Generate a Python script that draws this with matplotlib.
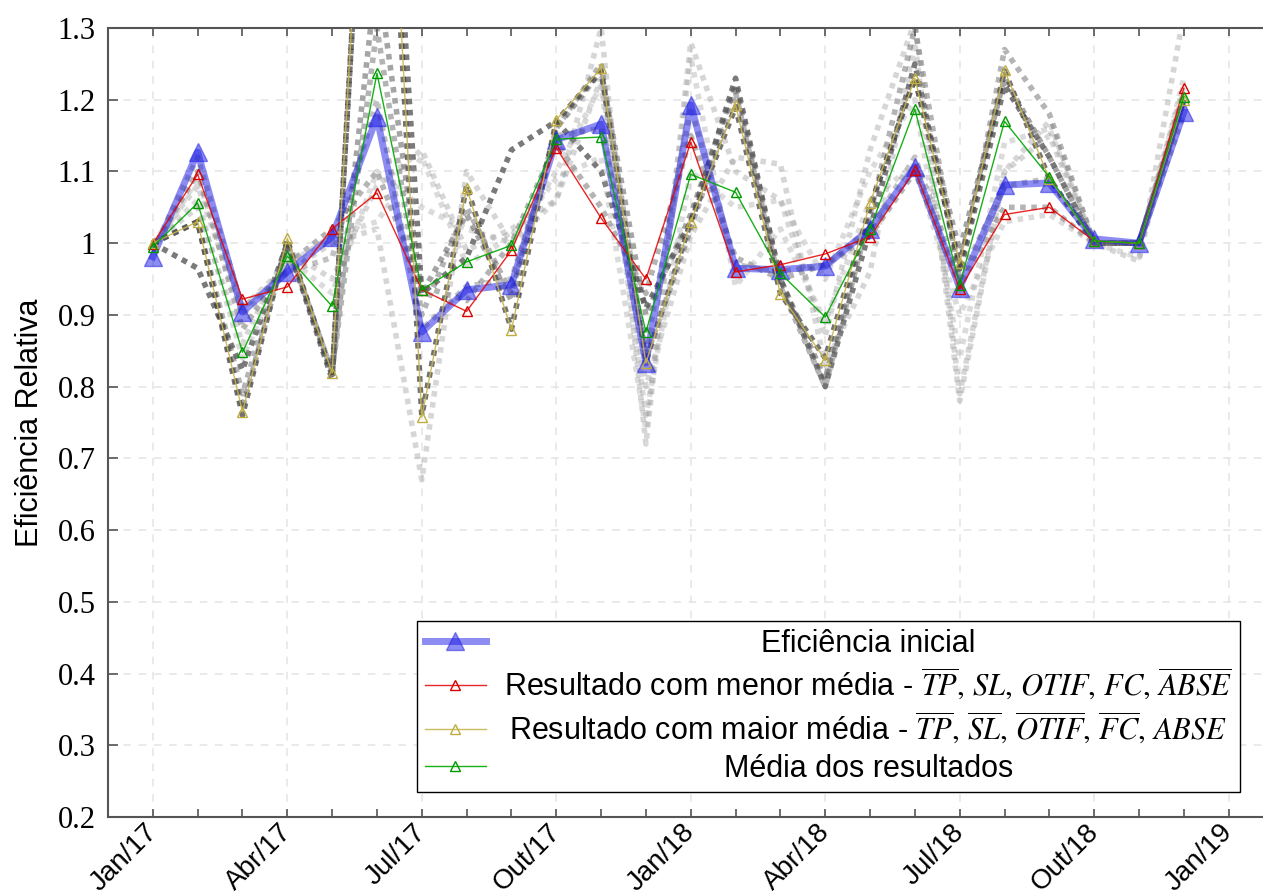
import matplotlib.pyplot as plt
import matplotlib.transforms as mtransforms
import numpy as np

plt.rcParams['font.family'] = ['Liberation Sans', 'DejaVu Sans']
plt.rcParams['mathtext.fontset'] = 'stix'

# meses avaliados (Jan/17 a Dez/18)
meses = ['Jan/17', 'Fev/17', 'Mar/17', 'Abr/17', 'Mai/17', 'Jun/17',
         'Jul/17', 'Ago/17', 'Set/17', 'Out/17', 'Nov/17', 'Dez/17',
         'Jan/18', 'Fev/18', 'Mar/18', 'Abr/18', 'Mai/18', 'Jun/18',
         'Jul/18', 'Ago/18', 'Set/18', 'Out/18', 'Nov/18', 'Dez/18']
rotulos_x = ['Jan/17', 'Abr/17', 'Jul/17', 'Out/17', 'Jan/18',
             'Abr/18', 'Jul/18', 'Out/18', 'Jan/19']

ef_inicial = [0.981, 1.127, 0.904, 0.960, 1.009, 1.176, 0.876, 0.935,
              0.942, 1.144, 1.166, 0.833, 1.193, 0.965, 0.963, 0.968,
              1.020, 1.106, 0.938, 1.081, 1.084, 1.006, 1.000, 1.183]
menor_media = [0.999, 1.096, 0.922, 0.939, 1.020, 1.070, 0.935, 0.905,
               0.990, 1.133, 1.035, 0.950, 1.141, 0.960, 0.970, 0.985,
               1.009, 1.102, 0.936, 1.040, 1.050, 1.003, 1.000, 1.216]
maior_media = [1.000, 1.030, 0.765, 1.007, 0.819, 1.940, 0.758, 1.077,
               0.879, 1.172, 1.244, 0.833, 1.030, 1.193, 0.929, 0.837,
               1.056, 1.230, 0.972, 1.241, 1.090, 1.003, 1.000, 1.200]
media_result = [0.995, 1.056, 0.848, 0.982, 0.912, 1.237, 0.935, 0.974,
                0.997, 1.145, 1.148, 0.876, 1.096, 1.071, 0.958, 0.897,
                1.020, 1.187, 0.942, 1.170, 1.092, 1.003, 1.000, 1.204]

# demais resultados da otimizacao
res_01 = [1.00, 1.03, 0.76, 1.005, 0.815, 1.90, 0.76, 1.08, 0.88, 1.17, 1.24, 0.835,
          1.03, 1.19, 0.93, 0.84, 1.05, 1.23, 0.97, 1.24, 1.09, 1.00, 1.00, 1.20]
res_02 = [1.00, 0.965, 0.823, 1.00, 0.81, 1.90, 0.93, 0.98, 1.13, 1.17, 1.10, 0.91,
          1.03, 1.23, 0.95, 0.80, 1.02, 1.25, 0.96, 1.22, 1.12, 1.00, 1.00, 1.20]
res_03 = [0.99, 1.10, 0.88, 0.97, 1.02, 1.10, 0.94, 0.92, 1.00, 1.14, 1.05, 0.93,
          1.15, 0.98, 0.95, 0.97, 1.01, 1.10, 0.94, 1.05, 1.05, 1.00, 1.00, 1.21]
res_04 = [1.00, 1.05, 0.86, 0.99, 0.95, 1.08, 1.13, 0.99, 1.02, 1.06, 1.30, 0.72,
          1.28, 1.10, 1.06, 0.87, 1.13, 1.31, 0.79, 1.10, 1.17, 1.00, 0.975, 1.32]
res_05 = [1.00, 1.08, 0.90, 0.96, 1.00, 1.02, 0.67, 1.10, 1.00, 1.06, 1.23, 0.80,
          1.01, 1.12, 1.11, 0.83, 0.96, 1.28, 0.78, 1.10, 1.15, 1.00, 1.00, 1.22]
res_06 = [1.00, 1.03, 0.79, 1.00, 0.82, 1.30, 0.90, 1.05, 0.93, 1.16, 1.25, 0.84,
          1.02, 1.21, 0.94, 0.80, 1.04, 1.30, 0.95, 1.27, 1.18, 1.00, 1.00, 1.20]
res_07 = [0.99, 1.12, 0.91, 0.96, 0.98, 1.20, 0.88, 0.94, 0.95, 1.15, 1.16, 0.85,
          1.19, 0.97, 0.96, 0.97, 1.02, 1.12, 0.95, 1.08, 1.09, 1.00, 1.00, 1.18]
res_08 = [1.00, 1.06, 0.84, 0.98, 0.93, 1.10, 1.05, 1.02, 1.00, 1.10, 1.22, 0.76,
          1.10, 1.05, 1.06, 0.95, 1.10, 1.20, 0.84, 1.14, 1.16, 1.00, 0.98, 1.23]
res_09 = [1.00, 1.03, 0.77, 1.00, 0.82, 1.38, 0.93, 1.04, 0.92, 1.16, 1.24, 0.90,
          1.04, 1.22, 0.95, 0.81, 1.05, 1.23, 0.99, 1.23, 1.12, 1.00, 1.00, 1.20]
res_10 = [0.99, 1.09, 0.91, 0.97, 1.01, 1.03, 1.12, 0.97, 1.01, 1.09, 1.12, 0.74,
          1.26, 0.94, 1.02, 0.89, 1.06, 1.11, 0.90, 1.03, 1.04, 1.00, 1.00, 1.20]

outros = [res_01, res_02, res_03, res_04, res_05, res_06, res_07, res_08, res_09, res_10]
tons = [(0.15, 0.65), (0.2, 0.65), (0.35, 0.45), (0.55, 0.35), (0.55, 0.35),
        (0.35, 0.45), (0.4, 0.4), (0.6, 0.35), (0.3, 0.5), (0.6, 0.35)]

x = np.arange(len(meses))
pos_rotulos = np.arange(0, 25, 3)

fig = plt.figure(figsize=(12.63, 8.91), dpi=100)
ax = fig.add_axes([108 / 1263, 74 / 891, 1161 / 1263, 789 / 891])

for serie, (g, a) in zip(outros, tons):
    ax.plot(x, serie, color=(g, g, g), alpha=a, lw=4, ls=(0, (1, 1)),
            dash_capstyle='butt', zorder=1)

ax.plot(x, ef_inicial, color=(0.1, 0.1, 0.9), alpha=0.5, lw=5, marker='^',
        ms=13, zorder=3, label='Eficiência inicial')
ax.plot(x, menor_media, color=(0.9, 0, 0, 0.85), lw=1, marker='^', ms=7,
        mfc='none', mec=(0.85, 0, 0), mew=1, zorder=4,
        label=r'Resultado com menor média - $\overline{TP},\, SL,\, OTIF,\, FC,\, \overline{ABSE}$')
ax.plot(x, maior_media, color=(0.78, 0.71, 0.3, 0.9), lw=1, marker='^', ms=7,
        mfc='none', mec=(0.75, 0.68, 0.25), mew=1, zorder=4,
        label=r'Resultado com maior média - $\overline{TP},\, \overline{SL},\, \overline{OTIF},\, \overline{FC},\, ABSE$')
ax.plot(x, media_result, color=(0, 0.65, 0, 0.9), lw=1, marker='^', ms=7,
        mfc='none', mec=(0, 0.6, 0), mew=1, zorder=5,
        label='Média dos resultados')

ax.set_xlim(-1, 24.9)
ax.set_ylim(0.2, 1.3)
ax.set_xticks(pos_rotulos)
ax.set_xticklabels([])
ax.set_xticks(x, minor=True)

# rotulos inclinados do eixo x, ancorados no canto superior direito
desloc = mtransforms.ScaledTranslation(-0.09, -0.02, fig.dpi_scale_trans)
for p, rot in zip(pos_rotulos, rotulos_x):
    ax.text(p, 0, rot, transform=ax.get_xaxis_transform() + desloc,
            rotation=45, rotation_mode='anchor', ha='right', va='top',
            fontsize=20, clip_on=False)

ax.set_yticks(np.round(np.arange(0.2, 1.31, 0.1), 1))
ax.set_yticklabels([f'{v:g}' for v in np.round(np.arange(0.2, 1.31, 0.1), 1)],
                   fontsize=22, family='Liberation Serif')
ax.tick_params(which='both', direction='in', top=True, color='#555555', width=1.2)
ax.tick_params(axis='x', which='both', length=6)
ax.tick_params(axis='y', length=7, pad=9)
ax.grid(True, which='major', ls=(0, (5, 5)), color='#e4e4e4', lw=1.1)
ax.set_axisbelow(True)
for lado in ['left', 'bottom', 'top']:
    ax.spines[lado].set_color('#555555')
    ax.spines[lado].set_linewidth(1.5)
ax.spines['right'].set_visible(False)

ax.set_ylabel('Eficiência Relativa', fontsize=22, labelpad=9)

leg = ax.legend(loc='lower right', bbox_to_anchor=(0.975, 0.032),
                borderaxespad=0, fontsize=22, fancybox=False, framealpha=1,
                edgecolor='black', handlelength=2.0, labelspacing=0.25,
                borderpad=0.25, handletextpad=0.6)
leg.get_frame().set_linewidth(1.0)

# texto da legenda centralizado em cada linha
fig.canvas.draw()
textos = leg.get_texts()
caixas = [t.get_window_extent() for t in textos]
xc = (min(b.x0 for b in caixas) + max(b.x1 for b in caixas)) / 2
inv = fig.transFigure.inverted()
for t in textos:
    px, py = t.get_transform().transform(t.get_position())
    fx, fy = inv.transform((xc, py))
    fig.text(fx, fy, t.get_text(), ha='center', va='baseline',
             fontsize=t.get_fontsize(), zorder=10)
    t.set_visible(False)

fig.savefig('out.png', dpi=100)
